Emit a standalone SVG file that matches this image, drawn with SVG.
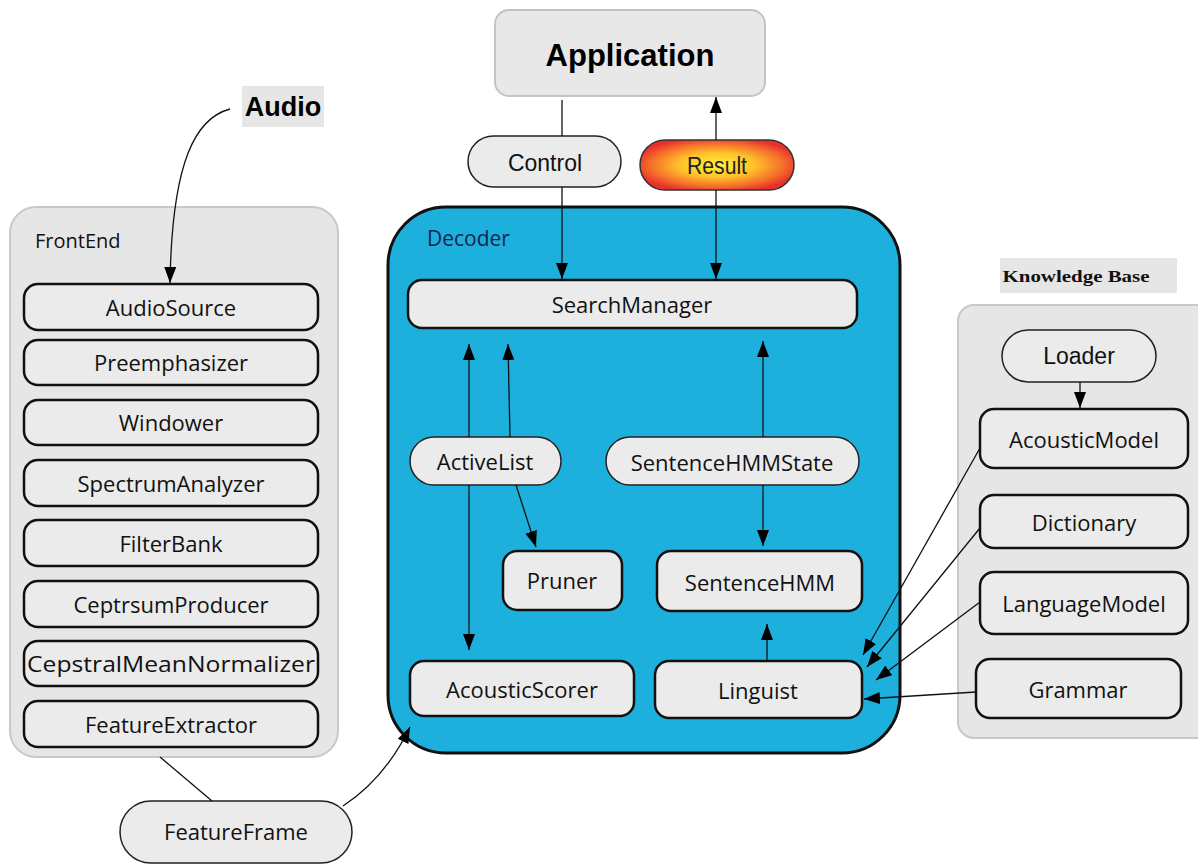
<svg xmlns="http://www.w3.org/2000/svg" width="1198" height="864" viewBox="0 0 1198 864">
<defs>
<marker id="arr" viewBox="0 0 16 12" refX="16" refY="6" markerWidth="16" markerHeight="12" markerUnits="userSpaceOnUse" orient="auto">
<path d="M0,0 L16,6 L0,12 z" fill="#000"/>
</marker>
<radialGradient id="resGrad" cx="50%" cy="50%" r="55%">
<stop offset="0" stop-color="#fff23a"/>
<stop offset="0.45" stop-color="#ffc02a"/>
<stop offset="0.8" stop-color="#f46a2a"/>
<stop offset="1" stop-color="#e8302a"/>
</radialGradient>
<style>
.node{fill:#ebebeb;stroke:#111;stroke-width:2.5}
.pill{fill:#ebebeb;stroke:#222;stroke-width:1.5}
.lbl{font-family:"Open Sans","Liberation Sans",sans-serif;font-size:22px;fill:#111;text-anchor:middle;dominant-baseline:central}
.conn{fill:none;stroke:#111;stroke-width:1.3}
.panel{fill:#e6e6e6;stroke:#c8c8c8;stroke-width:2}
</style>
</defs>
<rect width="1198" height="864" fill="#fff"/>

<g id="frontend">
<rect class="panel" x="10" y="207" width="328" height="550" rx="26"/>
<text x="35" y="248" font-family="Open Sans, Liberation Sans, sans-serif" font-size="20" fill="#111">FrontEnd</text>
</g>
<g id="audiosource"><rect class="node" x="24" y="284" width="294" height="46" rx="14"/><text class="lbl" x="171" y="307">AudioSource</text></g>
<g id="preemphasizer"><rect class="node" x="24" y="340" width="294" height="45" rx="14"/><text class="lbl" x="171" y="362">Preemphasizer</text></g>
<g id="windower"><rect class="node" x="24" y="400" width="294" height="45" rx="14"/><text class="lbl" x="171" y="422">Windower</text></g>
<g id="spectrumanalyzer"><rect class="node" x="24" y="460" width="294" height="46" rx="14"/><text class="lbl" x="171" y="483">SpectrumAnalyzer</text></g>
<g id="filterbank"><rect class="node" x="24" y="520" width="294" height="46" rx="14"/><text class="lbl" x="171" y="543">FilterBank</text></g>
<g id="ceptrsumproducer"><rect class="node" x="24" y="581" width="294" height="46" rx="14"/><text class="lbl" x="171" y="604">CeptrsumProducer</text></g>
<g id="cepstralmeannormalizer"><rect class="node" x="24" y="641" width="294" height="45" rx="14"/><text class="lbl" x="171" y="663" textLength="288" lengthAdjust="spacingAndGlyphs">CepstralMeanNormalizer</text></g>
<g id="featureextractor"><rect class="node" x="24" y="701" width="294" height="46" rx="14"/><text class="lbl" x="171" y="724">FeatureExtractor</text></g>

<g id="audio">
<rect x="242" y="86" width="82" height="41" fill="#e6e6e6"/>
<text x="283" y="107" font-family="Liberation Sans, Arial, sans-serif" font-weight="bold" font-size="27" fill="#000" text-anchor="middle" dominant-baseline="central">Audio</text>
</g>

<g id="featureframe"><rect class="pill" x="120" y="801" width="232" height="62" rx="31"/><text class="lbl" x="236" y="831" font-size="20">FeatureFrame</text></g>

<g id="application">
<rect x="495" y="10" width="270" height="86" rx="14" fill="#e8e8e8" stroke="#c4c4c4" stroke-width="2"/>
<text x="630" y="55" font-family="Liberation Sans, Arial, sans-serif" font-weight="bold" font-size="31" fill="#000" text-anchor="middle" dominant-baseline="central">Application</text>
</g>
<g id="control"><rect class="pill" x="468" y="136" width="153" height="51" rx="25.5"/><text x="545" y="162" font-family="Liberation Sans, Arial, sans-serif" font-size="24" fill="#111" text-anchor="middle" dominant-baseline="central" textLength="74" lengthAdjust="spacingAndGlyphs">Control</text></g>
<g id="result"><rect x="640" y="140" width="154" height="50" rx="25" fill="url(#resGrad)" stroke="#333" stroke-width="1.5"/><text x="717" y="166" font-family="Liberation Sans, Arial, sans-serif" font-size="23" fill="#222" text-anchor="middle" dominant-baseline="central" textLength="60" lengthAdjust="spacingAndGlyphs">Result</text></g>

<g id="decoder">
<rect x="388" y="207" width="512" height="546" rx="58" fill="#1eb0dc" stroke="#111" stroke-width="3"/>
<text x="427" y="246" font-family="Open Sans, Liberation Sans, sans-serif" font-size="21" fill="#13254f">Decoder</text>
</g>
<g id="searchmanager"><rect class="node" x="408" y="280" width="449" height="48" rx="14"/><text class="lbl" x="632" y="304" font-size="21">SearchManager</text></g>
<g id="activelist"><rect class="pill" x="410" y="437" width="151" height="48" rx="24"/><text class="lbl" x="485" y="461" font-size="20">ActiveList</text></g>
<g id="sentencehmmstate"><rect class="pill" x="606" y="437" width="253" height="48" rx="24"/><text class="lbl" x="732" y="462" font-size="21">SentenceHMMState</text></g>
<g id="pruner"><rect class="node" x="503" y="551" width="119" height="59" rx="14"/><text class="lbl" x="562" y="580">Pruner</text></g>
<g id="sentencehmm"><rect class="node" x="657" y="551" width="205" height="60" rx="14"/><text class="lbl" x="760" y="582">SentenceHMM</text></g>
<g id="acousticscorer"><rect class="node" x="410" y="661" width="224" height="55" rx="14"/><text class="lbl" x="522" y="689">AcousticScorer</text></g>
<g id="linguist"><rect class="node" x="655" y="661" width="207" height="57" rx="14"/><text class="lbl" x="758" y="690">Linguist</text></g>

<g id="knowledgebase">
<rect x="1000" y="258" width="177" height="35" fill="#e6e6e6"/>
<text x="1076" y="276" font-family="Liberation Serif, Times New Roman, serif" font-weight="bold" font-size="16" fill="#111" text-anchor="middle" dominant-baseline="central" textLength="147" lengthAdjust="spacingAndGlyphs">Knowledge Base</text>
<rect class="panel" x="958" y="305" width="260" height="433" rx="16"/>
</g>
<g id="loader"><rect class="pill" x="1002" y="330" width="154" height="52" rx="26"/><text x="1079" y="356" font-family="Liberation Sans, Arial, sans-serif" font-size="23" fill="#111" text-anchor="middle" dominant-baseline="central">Loader</text></g>
<g id="acousticmodel"><rect class="node" x="980" y="409" width="208" height="59" rx="14"/><text class="lbl" x="1084" y="439">AcousticModel</text></g>
<g id="dictionary"><rect class="node" x="980" y="495" width="208" height="53" rx="14"/><text class="lbl" x="1084" y="522">Dictionary</text></g>
<g id="languagemodel"><rect class="node" x="980" y="572" width="208" height="62" rx="14"/><text class="lbl" x="1084" y="603">LanguageModel</text></g>
<g id="grammar"><rect class="node" x="976" y="659" width="205" height="59" rx="14"/><text class="lbl" x="1078" y="689">Grammar</text></g>

<g id="connectors">
<path class="conn" d="M230,109 C196,118 172,160 170,283" marker-end="url(#arr)"/>
<path class="conn" d="M160,757 L212,801"/>
<path class="conn" d="M343,806 C372,787 394,760 410,727" marker-end="url(#arr)"/>
<path class="conn" d="M562,100 L562,136"/>
<path class="conn" d="M562,187 L562,279" marker-end="url(#arr)"/>
<path class="conn" d="M716,140 L716,97" marker-end="url(#arr)"/>
<path class="conn" d="M716,190 L716,279" marker-end="url(#arr)"/>
<path class="conn" d="M469,437 L469,344" marker-end="url(#arr)"/>
<path class="conn" d="M510,437 L508,344" marker-end="url(#arr)"/>
<path class="conn" d="M763,437 L763,341" marker-end="url(#arr)"/>
<path class="conn" d="M469,485 L469,650" marker-end="url(#arr)"/>
<path class="conn" d="M516,485 L536,547" marker-end="url(#arr)"/>
<path class="conn" d="M763,485 L763,546" marker-end="url(#arr)"/>
<path class="conn" d="M767,661 L767,624" marker-end="url(#arr)"/>
<path class="conn" d="M1080,382 L1080,408" marker-end="url(#arr)"/>
<path class="conn" d="M980,448 L863,655" marker-end="url(#arr)"/>
<path class="conn" d="M980,528 L867,667" marker-end="url(#arr)"/>
<path class="conn" d="M980,602 L876,680" marker-end="url(#arr)"/>
<path class="conn" d="M976,692 L864,699" marker-end="url(#arr)"/>
</g>
</svg>
